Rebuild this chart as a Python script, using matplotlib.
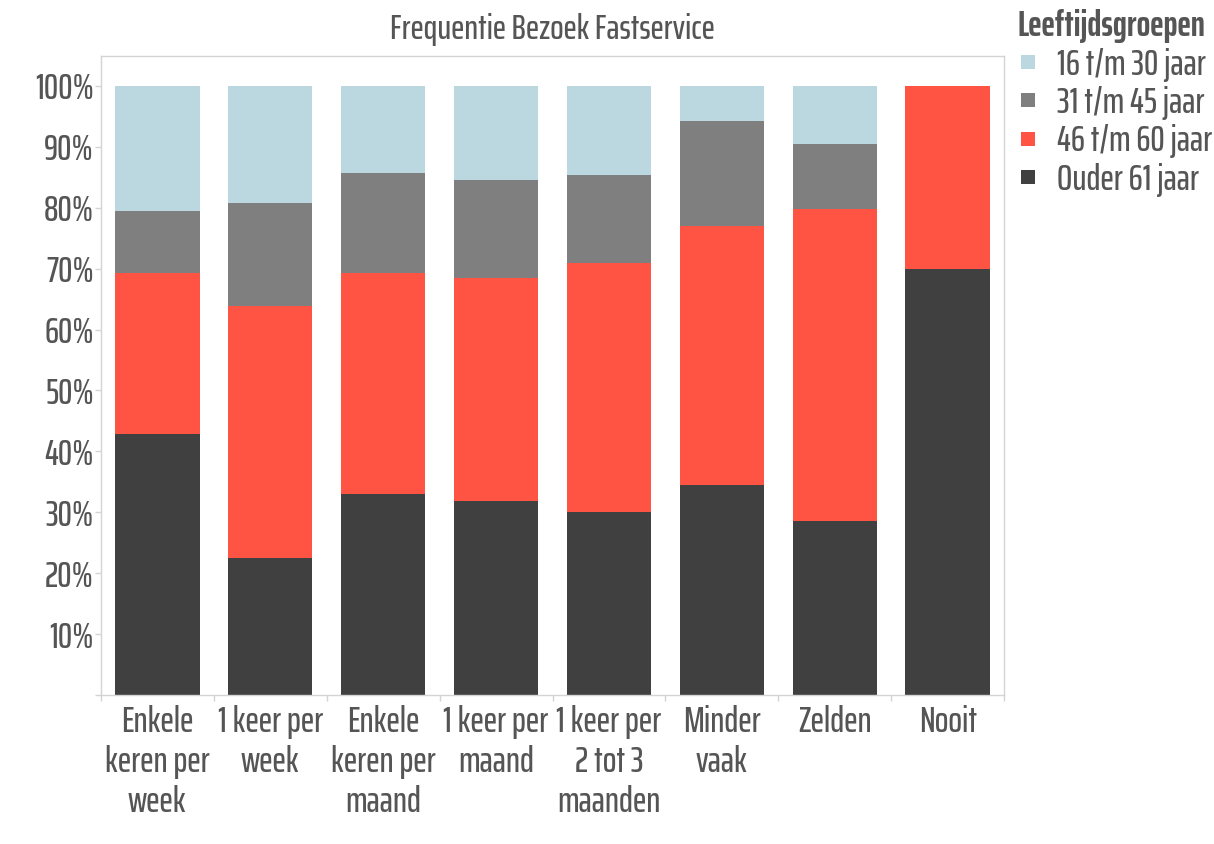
import matplotlib
matplotlib.use("Agg")
import matplotlib.pyplot as plt
from matplotlib.lines import Line2D
import numpy as np

categories = ["Enkele\nkeren per\nweek", "1 keer per\nweek", "Enkele\nkeren per\nmaand",
              "1 keer per\nmaand", "1 keer per\n2 tot 3\nmaanden", "Minder\nvaak", "Zelden", "Nooit"]
series_names = ["16 t/m 30 jaar", "31 t/m 45 jaar", "46 t/m 60 jaar", "Ouder 61 jaar"]
ouder61 = [42.9, 22.5, 33.0, 31.9, 30.0, 34.5, 28.6, 70.0]
j46_60 = [26.4, 41.4, 36.2, 36.6, 40.9, 42.5, 51.2, 30.0]
j31_45 = [10.2, 16.9, 16.5, 16.1, 14.5, 17.3, 10.7, 0.0]
j16_30 = [20.5, 19.2, 14.3, 15.4, 14.6, 5.7, 9.5, 0.0]
yticks = [0, 10, 20, 30, 40, 50, 60, 70, 80, 90, 100]
yticklabels = ["", "10%", "20%", "30%", "40%", "50%", "60%", "70%", "80%", "90%", "100%"]

colors = {"16 t/m 30 jaar": "#BBD8E1", "31 t/m 45 jaar": "#7F7F7F",
          "46 t/m 60 jaar": "#FF5444", "Ouder 61 jaar": "#404040"}
TXT = "#555555"
FONT = ["Saira ExtraCondensed", "DejaVu Sans"]
plt.rcParams["font.family"] = FONT
plt.rcParams["font.weight"] = "medium"

W, H = 1214, 844
fig = plt.figure(figsize=(W / 100, H / 100), dpi=100)
ax = fig.add_axes([100.7 / W, 1 - 695 / H, (1004.3 - 100.7) / W, (695 - 56) / H])

x = np.arange(len(categories))
bw = 0.75
bottom = np.zeros(len(categories))
stack = [("Ouder 61 jaar", ouder61), ("46 t/m 60 jaar", j46_60),
         ("31 t/m 45 jaar", j31_45), ("16 t/m 30 jaar", j16_30)]
for name, vals in stack:
    v = np.array(vals)
    ax.bar(x, v, bw, bottom=bottom, color=colors[name], linewidth=0, zorder=2)
    bottom += v

ax.set_xlim(-0.5, len(categories) - 0.5)
ax.set_ylim(0, 104.9)

for s in ax.spines.values():
    s.set_color("#D4D4D4")
    s.set_linewidth(1.0)

ax.set_yticks(yticks)
ax.set_yticklabels(yticklabels)
ax.tick_params(axis="y", length=4, width=1, color="#D4D4D4", pad=1,
               labelsize=26, labelcolor=TXT)

ax.set_xticks(x)
ax.set_xticklabels(categories, linespacing=1.22)
ax.set_xticks(np.arange(len(categories) + 1) - 0.5, minor=True)
ax.tick_params(axis="x", which="major", length=0, pad=7, labelsize=26, labelcolor=TXT)
ax.tick_params(axis="x", which="minor", length=4, width=1, color="#D4D4D4")

fig.text(552.5 / W, 1 - 39 / H, "Frequentie Bezoek Fastservice", ha="center", va="baseline",
         fontsize=25.5, color=TXT)

handles = [Line2D([], [], linestyle="none", marker="s", markersize=10.5,
                  markerfacecolor=colors[n], markeredgewidth=0) for n in series_names]
leg = fig.legend(handles, series_names, loc="upper left",
                 bbox_to_anchor=(1010 / W, 1 - 2 / H), frameon=False,
                 title="Leeftijdsgroepen", alignment="left",
                 fontsize=26, title_fontproperties={"size": 26, "weight": "bold", "family": FONT},
                 handlelength=0.6, handletextpad=0.5, labelspacing=0.12,
                 borderaxespad=0, borderpad=0.2)
for t in leg.get_texts():
    t.set_color(TXT)
leg.get_title().set_color(TXT)

fig.savefig("out.png", dpi=100)
